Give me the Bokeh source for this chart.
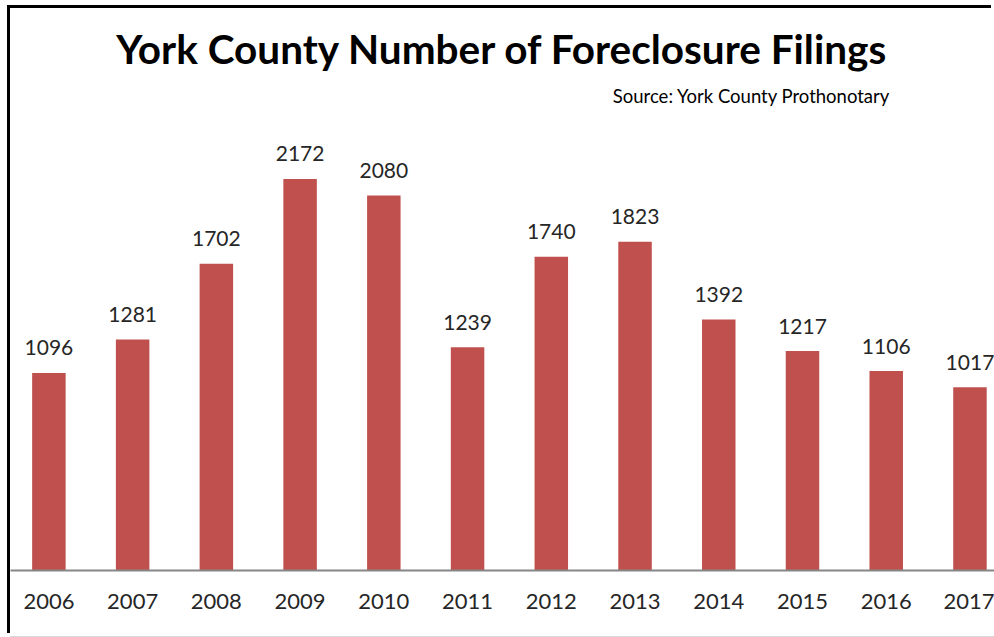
from bokeh.plotting import figure
from bokeh.models import ColumnDataSource, Range1d, Title, FixedTicker
from bokeh.core.properties import value
from bokeh.embed import file_html
from bokeh.resources import INLINE

years = ["2006", "2007", "2008", "2009", "2010", "2011", "2012", "2013", "2014", "2015", "2016", "2017"]
filings = [1096, 1281, 1702, 2172, 2080, 1239, 1740, 1823, 1392, 1217, 1106, 1017]

idx = list(range(len(years)))
src = ColumnDataSource(dict(x=idx, top=filings, label=[str(v) for v in filings]))

FONT = "Lato"

p = figure(width=984, height=628, output_backend="svg", toolbar_location=None,
           x_range=Range1d(-0.4586, 11.293), y_range=Range1d(0, 2546),
           min_border_left=0, min_border_right=0, min_border_top=103, min_border_bottom=66,
           title=None)
p.styles = {"margin-left": "10px", "margin-top": "8px",
            "box-shadow": "-3px -3px 0 0 #000000, 0 1px 0 0 #d9d9d9"}

p.vbar(x="x", top="top", width=0.4, bottom=0, source=src, fill_color="#C0504D", line_color=None)
p.text(x="x", y="top", text="label", source=src, text_align="center", text_baseline="alphabetic",
       y_offset=-25, text_font=value(FONT), text_font_size="21px", text_color="#262626")

p.add_layout(Title(text="Source: York County Prothonotary", align="right", offset=104,
                   text_font=FONT, text_font_size="18.5px", text_font_style="normal",
                   text_color="#000000"), "above")
p.add_layout(Title(text="York County Number of Foreclosure Filings", align="center",
                   text_font=FONT, text_font_size="40.5px", text_font_style="bold",
                   text_color="#000000"), "above")

p.yaxis.visible = False
p.xgrid.visible = False
p.ygrid.visible = False
p.outline_line_color = None
p.background_fill_color = "white"
p.border_fill_color = "white"

ax = p.xaxis[0]
ax.ticker = FixedTicker(ticks=idx)
ax.major_label_overrides = {i: y for i, y in zip(idx, years)}
ax.major_tick_line_color = None
ax.minor_tick_line_color = None
ax.axis_line_color = "#868686"
ax.axis_line_width = 2
ax.major_label_standoff = 17
ax.major_label_text_font = FONT
ax.major_label_text_font_size = "22px"
ax.major_label_text_color = "#262626"

open("out.html", "w").write(file_html(p, INLINE))
